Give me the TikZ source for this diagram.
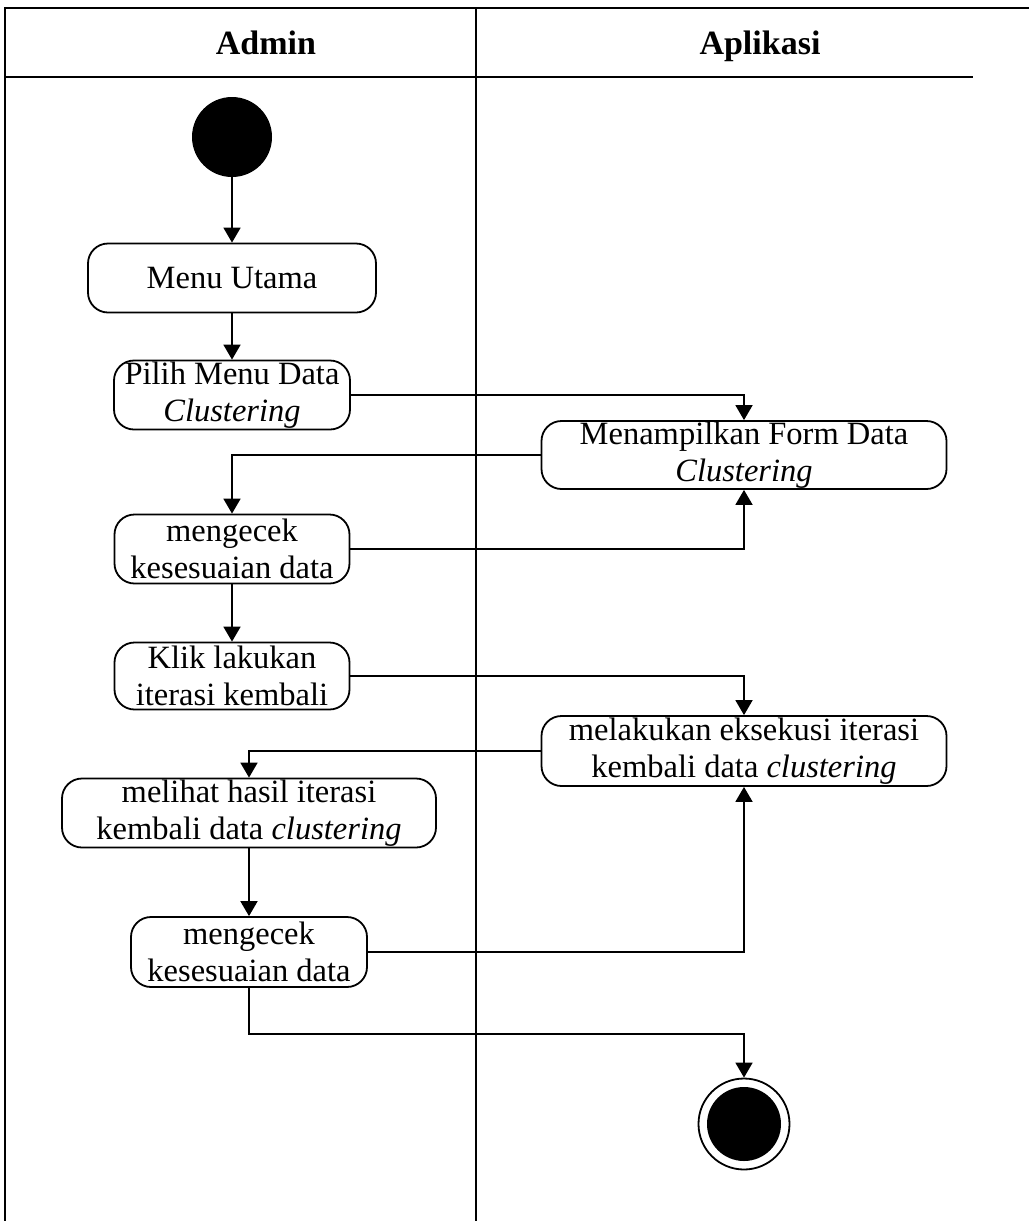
\documentclass[tikz,border=0pt]{standalone}
\usepackage{fontspec}
\setmainfont{Liberation Serif}
\usepackage{tikz}
\usetikzlibrary{arrows.meta, positioning, shapes.geometric}
\tikzstyle{activity} = [rectangle, rounded corners=20pt, draw=black, line width=1.8pt, inner sep=0pt, align=center, text centered]
\tikzstyle{arrow} = [line width=1.8pt, -{Triangle[width=17pt,length=15pt]}]
\tikzstyle{lane} = [line width=1.8pt]
\tikzstyle{header} = [anchor=base, font=\fontsize{34}{40}\selectfont\bfseries]

\begin{document}
\begin{tikzpicture}[x=1pt, y=-1pt, font=\fontsize{32.5}{37}\selectfont]
  \useasboundingbox (0,0) rectangle (1029,1221);
  % swimlanes
  \draw[lane] (5,1221) -- (5,8) -- (1029,8);
  \draw[lane] (5,77) -- (973,77);
  \draw[lane] (476,8) -- (476,1221);
  \node (admin) [header] at (266,54) {Admin};
  \node (aplikasi) [header] at (760,54) {Aplikasi};
  % activities
  \node (start) [circle, fill=black, minimum size=80pt] at (232,137) {};
  \node (menu) [activity, minimum width=288pt, minimum height=69pt] at (232,278) {Menu Utama};
  \node (pilih) [activity, minimum width=236pt, minimum height=69pt] at (232,395) {Pilih Menu Data\\\textit{Clustering}};
  \node (form) [activity, minimum width=405pt, minimum height=68pt] at (744,455) {Menampilkan Form Data\\\textit{Clustering}};
  \node (cek1) [activity, minimum width=235pt, minimum height=69pt] at (232,549) {mengecek\\kesesuaian data};
  \node (klik) [activity, minimum width=235pt, minimum height=67pt] at (232,676) {Klik lakukan\\iterasi kembali};
  \node (eksekusi) [activity, minimum width=405pt, minimum height=70pt] at (744,751) {melakukan eksekusi iterasi\\kembali data \textit{clustering}};
  \node (hasil) [activity, minimum width=374pt, minimum height=69pt] at (249,813) {melihat hasil iterasi\\kembali data \textit{clustering}};
  \node (cek2) [activity, minimum width=236pt, minimum height=70pt] at (249,952) {mengecek\\kesesuaian data};
  \node (end) [circle, draw=black, line width=1.8pt, minimum size=91pt] at (744,1124) {};
  \node (endin) [circle, fill=black, minimum size=74pt] at (end) {};
  \coordinate (belok) at (249,1034);
  % flow
  \draw[arrow] (start) -- (menu);
  \draw[arrow] (menu) -- (pilih);
  \draw[arrow] (pilih.east) -| (form.north);
  \draw[arrow] (form.west) -| (cek1.north);
  \draw[arrow] (cek1.east) -| (form.south);
  \draw[arrow] (cek1) -- (klik);
  \draw[arrow] (klik.east) -| (eksekusi.north);
  \draw[arrow] (eksekusi.west) -| (hasil.north);
  \draw[arrow] (hasil) -- (cek2);
  \draw[arrow] (cek2.east) -| (eksekusi.south);
  \draw[arrow] (cek2.south) -- (belok) -| (end.north);
\end{tikzpicture}
\end{document}
